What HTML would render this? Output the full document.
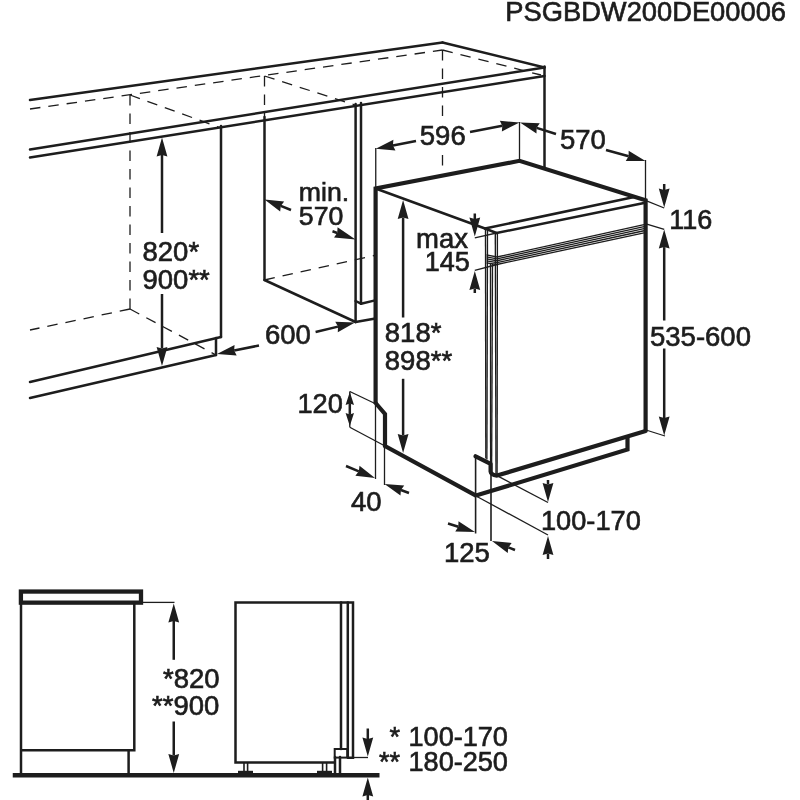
<!DOCTYPE html>
<html><head><meta charset="utf-8"><title>PSGBDW200DE00006</title>
<style>
html,body{margin:0;padding:0;background:#fff;}
body{width:800px;height:800px;overflow:hidden;}
svg{display:block;will-change:transform;filter:grayscale(1);}
svg text{font-family:"Liberation Sans",sans-serif;fill:#1d1d1b;stroke:#1d1d1b;stroke-width:0.65px;}
</style></head><body>
<svg width="800" height="800" viewBox="0 0 800 800">
<rect width="800" height="800" fill="#fff"/>
<text x="505.3" y="21" font-size="27.3" text-anchor="start">PSGBDW200DE00006</text>
<line x1="30" y1="100" x2="442.5" y2="42.5" stroke="#1d1d1b" stroke-width="2.5" stroke-linecap="round"/>
<line x1="442.5" y1="42.5" x2="544.5" y2="67.5" stroke="#1d1d1b" stroke-width="2.5" stroke-linecap="round"/>
<line x1="544.5" y1="66.5" x2="544.5" y2="167" stroke="#1d1d1b" stroke-width="2.5" stroke-linecap="round"/>
<line x1="30" y1="149.5" x2="544.5" y2="67.5" stroke="#1d1d1b" stroke-width="2.5" stroke-linecap="round"/>
<line x1="30" y1="157.5" x2="544.5" y2="76" stroke="#1d1d1b" stroke-width="2.5" stroke-linecap="round"/>
<line x1="30" y1="109" x2="442.5" y2="50" stroke="#1d1d1b" stroke-width="1.3" stroke-linecap="butt" stroke-dasharray="10.5 8"/>
<line x1="442.5" y1="50" x2="541" y2="75" stroke="#1d1d1b" stroke-width="1.3" stroke-linecap="butt" stroke-dasharray="10.5 8"/>
<line x1="442.5" y1="50" x2="442.5" y2="120" stroke="#1d1d1b" stroke-width="1.3" stroke-linecap="butt" stroke-dasharray="10.5 8"/>
<line x1="442.5" y1="155" x2="442.5" y2="170" stroke="#1d1d1b" stroke-width="1.3" stroke-linecap="butt" stroke-dasharray="10.5 8"/>
<line x1="130" y1="95" x2="130" y2="309" stroke="#1d1d1b" stroke-width="1.3" stroke-linecap="butt" stroke-dasharray="10.5 8"/>
<line x1="130" y1="95" x2="221" y2="128" stroke="#1d1d1b" stroke-width="1.3" stroke-linecap="butt" stroke-dasharray="10.5 8"/>
<line x1="130" y1="309" x2="30" y2="330" stroke="#1d1d1b" stroke-width="1.3" stroke-linecap="butt" stroke-dasharray="10.5 8"/>
<line x1="130" y1="309" x2="216" y2="355" stroke="#1d1d1b" stroke-width="1.3" stroke-linecap="butt" stroke-dasharray="10.5 8"/>
<line x1="221" y1="126" x2="221" y2="337" stroke="#1d1d1b" stroke-width="2.5" stroke-linecap="round"/>
<line x1="30" y1="382" x2="221" y2="337" stroke="#1d1d1b" stroke-width="2.5" stroke-linecap="round"/>
<line x1="30" y1="398" x2="216" y2="355" stroke="#1d1d1b" stroke-width="2.5" stroke-linecap="round"/>
<line x1="216" y1="338" x2="216" y2="355" stroke="#1d1d1b" stroke-width="2.5" stroke-linecap="round"/>
<line x1="264.5" y1="76" x2="264.5" y2="117" stroke="#1d1d1b" stroke-width="1.3" stroke-linecap="butt" stroke-dasharray="10.5 8"/>
<line x1="264.5" y1="76" x2="355" y2="105" stroke="#1d1d1b" stroke-width="1.3" stroke-linecap="butt" stroke-dasharray="10.5 8"/>
<line x1="264.5" y1="117" x2="264.5" y2="280" stroke="#1d1d1b" stroke-width="2.5" stroke-linecap="round"/>
<line x1="264.5" y1="280" x2="355.6" y2="322" stroke="#1d1d1b" stroke-width="2.5" stroke-linecap="round"/>
<line x1="264.5" y1="280" x2="374" y2="255.5" stroke="#1d1d1b" stroke-width="1.3" stroke-linecap="butt" stroke-dasharray="10.5 8"/>
<line x1="355.6" y1="104" x2="355.6" y2="322" stroke="#1d1d1b" stroke-width="2.5" stroke-linecap="round"/>
<line x1="361" y1="103" x2="361" y2="303.7" stroke="#1d1d1b" stroke-width="2.5" stroke-linecap="round"/>
<line x1="355.6" y1="301" x2="361" y2="303.7" stroke="#1d1d1b" stroke-width="2.5" stroke-linecap="round"/>
<line x1="361" y1="303.7" x2="374" y2="300.6" stroke="#1d1d1b" stroke-width="2.5" stroke-linecap="round"/>
<line x1="355.6" y1="322" x2="374" y2="318.7" stroke="#1d1d1b" stroke-width="2.5" stroke-linecap="round"/>
<polyline points="375.6,404 375.6,188.5 519.5,160.8 645.6,200.3 645.6,431" fill="none" stroke="#1d1d1b" stroke-width="4.2" stroke-linejoin="miter"/>
<line x1="375.6" y1="188.5" x2="485" y2="228.5" stroke="#1d1d1b" stroke-width="2.5" stroke-linecap="round"/>
<polyline points="375.6,403 385,414 385,446 476,495.6" fill="none" stroke="#1d1d1b" stroke-width="4.2" stroke-linejoin="miter"/>
<line x1="485" y1="228.5" x2="633" y2="197.3" stroke="#1d1d1b" stroke-width="2.5" stroke-linecap="round"/>
<line x1="496.5" y1="233" x2="644" y2="203" stroke="#1d1d1b" stroke-width="2.5" stroke-linecap="round"/>
<line x1="485" y1="228.5" x2="496.5" y2="233" stroke="#1d1d1b" stroke-width="2.5" stroke-linecap="round"/>
<line x1="485.5" y1="229" x2="485.8" y2="458.5" stroke="#1d1d1b" stroke-width="1.35" stroke-linecap="butt"/>
<line x1="487.5" y1="229.5" x2="486.9" y2="459.5" stroke="#1d1d1b" stroke-width="1.35" stroke-linecap="butt"/>
<line x1="495.3" y1="232.5" x2="496.0" y2="475" stroke="#1d1d1b" stroke-width="1.35" stroke-linecap="butt"/>
<line x1="497.4" y1="233.5" x2="497.1" y2="475" stroke="#1d1d1b" stroke-width="1.35" stroke-linecap="butt"/>
<line x1="490.5" y1="263" x2="490.6" y2="464" stroke="#1d1d1b" stroke-width="1.35" stroke-linecap="butt"/>
<line x1="492.5" y1="264" x2="491.6" y2="474" stroke="#1d1d1b" stroke-width="1.35" stroke-linecap="butt"/>
<line x1="497" y1="257.0" x2="644" y2="224.6" stroke="#1d1d1b" stroke-width="1.3" stroke-linecap="butt"/>
<line x1="486.5" y1="254.8" x2="497" y2="257.0" stroke="#1d1d1b" stroke-width="1.3" stroke-linecap="butt"/>
<line x1="497" y1="258.875" x2="644" y2="226.65" stroke="#1d1d1b" stroke-width="1.3" stroke-linecap="butt"/>
<line x1="486.5" y1="256.8" x2="497" y2="258.875" stroke="#1d1d1b" stroke-width="1.3" stroke-linecap="butt"/>
<line x1="497" y1="260.75" x2="644" y2="228.7" stroke="#1d1d1b" stroke-width="1.3" stroke-linecap="butt"/>
<line x1="486.5" y1="258.8" x2="497" y2="260.75" stroke="#1d1d1b" stroke-width="1.3" stroke-linecap="butt"/>
<line x1="497" y1="262.625" x2="644" y2="230.75" stroke="#1d1d1b" stroke-width="1.3" stroke-linecap="butt"/>
<line x1="486.5" y1="260.8" x2="497" y2="262.625" stroke="#1d1d1b" stroke-width="1.3" stroke-linecap="butt"/>
<line x1="497" y1="264.5" x2="644" y2="232.79999999999998" stroke="#1d1d1b" stroke-width="1.3" stroke-linecap="butt"/>
<line x1="486.5" y1="262.8" x2="497" y2="264.5" stroke="#1d1d1b" stroke-width="1.3" stroke-linecap="butt"/>
<path d="M475.6,456.3 L490.6,463.8 L490.6,471.5 Q491,475 497,475.6 L645.6,431" fill="none" stroke="#1d1d1b" stroke-width="4.2" stroke-linecap="round" stroke-linejoin="round"/>
<polyline points="476,495.6 627.5,449.4 627.5,436.5" fill="none" stroke="#1d1d1b" stroke-width="4.2" stroke-linejoin="miter"/>
<polygon points="162.00,137.50 167.40,156.50 162.00,155.00 156.60,156.50" fill="#1d1d1b"/>
<line x1="162" y1="233" x2="162.00" y2="155.00" stroke="#1d1d1b" stroke-width="2.5"/>
<polygon points="162.00,366.00 156.60,347.00 162.00,348.50 167.40,347.00" fill="#1d1d1b"/>
<line x1="162" y1="294" x2="162.00" y2="348.50" stroke="#1d1d1b" stroke-width="2.5"/>
<text x="142.5" y="261.25" font-size="27.5" text-anchor="start">820*</text>
<text x="142.5" y="288.5" font-size="27.5" text-anchor="start">900**</text>
<text x="298.8" y="201.2" font-size="26.7" text-anchor="start">min.</text>
<text x="298.8" y="224.7" font-size="26.7" text-anchor="start">570</text>
<polygon points="264.50,199.50 284.15,201.48 280.77,205.95 280.17,211.52" fill="#1d1d1b"/>
<line x1="291" y1="210" x2="280.77" y2="205.95" stroke="#1d1d1b" stroke-width="2.5"/>
<polygon points="355.60,239.40 334.00,237.55 337.20,232.95 337.57,227.36" fill="#1d1d1b"/>
<line x1="332.5" y1="231.3" x2="337.20" y2="232.95" stroke="#1d1d1b" stroke-width="2.5"/>
<text x="265" y="344" font-size="27.5" text-anchor="start">600</text>
<polygon points="217.00,354.00 234.55,344.94 234.15,350.53 236.69,355.52" fill="#1d1d1b"/>
<line x1="259" y1="345.5" x2="234.15" y2="350.53" stroke="#1d1d1b" stroke-width="2.5"/>
<polygon points="355.00,322.50 337.80,332.20 337.99,326.60 335.26,321.70" fill="#1d1d1b"/>
<line x1="315.6" y1="332" x2="337.99" y2="326.60" stroke="#1d1d1b" stroke-width="2.5"/>
<text x="419.8" y="144.5" font-size="27.5" text-anchor="start">596</text>
<polygon points="375.75,148.75 393.39,139.86 392.93,145.44 395.43,150.46" fill="#1d1d1b"/>
<line x1="416" y1="141" x2="392.93" y2="145.44" stroke="#1d1d1b" stroke-width="2.5"/>
<polygon points="519.50,122.50 501.86,131.38 502.31,125.80 499.82,120.78" fill="#1d1d1b"/>
<line x1="470" y1="132" x2="502.31" y2="125.80" stroke="#1d1d1b" stroke-width="2.5"/>
<line x1="375.75" y1="148" x2="375.75" y2="188" stroke="#1d1d1b" stroke-width="1.3" stroke-linecap="butt"/>
<line x1="519.5" y1="122" x2="519.5" y2="161" stroke="#1d1d1b" stroke-width="1.3" stroke-linecap="butt"/>
<text x="560" y="148.6" font-size="27.5" text-anchor="start">570</text>
<polygon points="520.00,122.50 539.74,123.14 536.67,127.83 536.46,133.43" fill="#1d1d1b"/>
<line x1="556" y1="134" x2="536.67" y2="127.83" stroke="#1d1d1b" stroke-width="2.5"/>
<polygon points="645.50,161.00 625.75,161.10 628.64,156.31 628.65,150.70" fill="#1d1d1b"/>
<line x1="606" y1="150" x2="628.64" y2="156.31" stroke="#1d1d1b" stroke-width="2.5"/>
<line x1="645.5" y1="160" x2="645.5" y2="199" stroke="#1d1d1b" stroke-width="1.3" stroke-linecap="butt"/>
<text x="669.3" y="229.4" font-size="27" text-anchor="start">116</text>
<polygon points="664.20,207.50 658.80,188.50 664.20,190.00 669.60,188.50" fill="#1d1d1b"/>
<line x1="664.2" y1="184" x2="664.20" y2="190.00" stroke="#1d1d1b" stroke-width="2.5"/>
<line x1="646" y1="200.6" x2="664.2" y2="208" stroke="#1d1d1b" stroke-width="1.3" stroke-linecap="butt"/>
<line x1="646" y1="223.8" x2="664.2" y2="229.4" stroke="#1d1d1b" stroke-width="1.3" stroke-linecap="butt"/>
<text x="650" y="345.6" font-size="27.5" text-anchor="start">535-600</text>
<polygon points="664.20,229.60 669.60,248.60 664.20,247.10 658.80,248.60" fill="#1d1d1b"/>
<line x1="664.2" y1="320.5" x2="664.20" y2="247.10" stroke="#1d1d1b" stroke-width="2.5"/>
<polygon points="664.20,435.50 658.80,416.50 664.20,418.00 669.60,416.50" fill="#1d1d1b"/>
<line x1="664.2" y1="348.5" x2="664.20" y2="418.00" stroke="#1d1d1b" stroke-width="2.5"/>
<line x1="646" y1="430" x2="665" y2="436" stroke="#1d1d1b" stroke-width="1.3" stroke-linecap="butt"/>
<text x="468" y="248" font-size="27.5" text-anchor="end">max</text>
<text x="469.7" y="271" font-size="27" text-anchor="end">145</text>
<polygon points="474.80,236.50 469.40,217.50 474.80,219.00 480.20,217.50" fill="#1d1d1b"/>
<line x1="474.8" y1="213.5" x2="474.80" y2="219.00" stroke="#1d1d1b" stroke-width="2.5"/>
<polygon points="474.80,271.00 480.20,290.00 474.80,288.50 469.40,290.00" fill="#1d1d1b"/>
<line x1="474.8" y1="293" x2="474.80" y2="288.50" stroke="#1d1d1b" stroke-width="2.5"/>
<line x1="474.8" y1="237.8" x2="496.5" y2="233" stroke="#1d1d1b" stroke-width="1.3" stroke-linecap="butt"/>
<line x1="474.8" y1="270.3" x2="497" y2="264.5" stroke="#1d1d1b" stroke-width="1.3" stroke-linecap="butt"/>
<text x="384.8" y="342" font-size="27.5" text-anchor="start">818*</text>
<text x="384.8" y="369.6" font-size="27.5" text-anchor="start">898**</text>
<polygon points="403.10,200.00 408.50,219.00 403.10,217.50 397.70,219.00" fill="#1d1d1b"/>
<line x1="403.1" y1="317.5" x2="403.10" y2="217.50" stroke="#1d1d1b" stroke-width="2.5"/>
<polygon points="403.10,453.00 397.70,434.00 403.10,435.50 408.50,434.00" fill="#1d1d1b"/>
<line x1="403.1" y1="378.8" x2="403.10" y2="435.50" stroke="#1d1d1b" stroke-width="2.5"/>
<text x="297.5" y="413" font-size="27.2" text-anchor="start">120</text>
<line x1="375" y1="403.5" x2="349.8" y2="391.5" stroke="#1d1d1b" stroke-width="1.3" stroke-linecap="butt"/>
<line x1="349.8" y1="391.5" x2="349.8" y2="427.3" stroke="#1d1d1b" stroke-width="1.3" stroke-linecap="butt"/>
<line x1="349.8" y1="427.3" x2="385" y2="446" stroke="#1d1d1b" stroke-width="1.3" stroke-linecap="butt"/>
<polygon points="349.80,392.00 354.00,405.00 349.80,403.50 345.60,405.00" fill="#1d1d1b"/>
<line x1="349.8" y1="409" x2="349.80" y2="403.50" stroke="#1d1d1b" stroke-width="2.5"/>
<polygon points="349.80,426.00 345.60,413.00 349.80,414.50 354.00,413.00" fill="#1d1d1b"/>
<line x1="349.8" y1="409" x2="349.80" y2="414.50" stroke="#1d1d1b" stroke-width="2.5"/>
<text x="351" y="510.5" font-size="27.5" text-anchor="start">40</text>
<line x1="375.5" y1="404" x2="375.5" y2="479" stroke="#1d1d1b" stroke-width="1.3" stroke-linecap="butt"/>
<line x1="384.5" y1="446" x2="384.5" y2="485" stroke="#1d1d1b" stroke-width="1.3" stroke-linecap="butt"/>
<polygon points="375.00,478.00 355.38,475.73 358.83,471.31 359.51,465.75" fill="#1d1d1b"/>
<line x1="346" y1="466" x2="358.83" y2="471.31" stroke="#1d1d1b" stroke-width="2.5"/>
<polygon points="384.50,484.00 404.20,485.48 400.93,490.03 400.47,495.62" fill="#1d1d1b"/>
<line x1="409" y1="493" x2="400.93" y2="490.03" stroke="#1d1d1b" stroke-width="2.5"/>
<text x="444" y="561.5" font-size="27.5" text-anchor="start">125</text>
<line x1="475.6" y1="456" x2="475.6" y2="533.5" stroke="#1d1d1b" stroke-width="1.6" stroke-linecap="butt"/>
<line x1="491" y1="473" x2="491" y2="541" stroke="#1d1d1b" stroke-width="1.6" stroke-linecap="butt"/>
<polygon points="475.00,532.00 455.26,531.45 458.31,526.74 458.50,521.14" fill="#1d1d1b"/>
<line x1="448" y1="523.5" x2="458.31" y2="526.74" stroke="#1d1d1b" stroke-width="2.5"/>
<polygon points="492.00,541.00 511.66,542.89 508.30,547.38 507.73,552.95" fill="#1d1d1b"/>
<line x1="515" y1="550" x2="508.30" y2="547.38" stroke="#1d1d1b" stroke-width="2.5"/>
<text x="541" y="529.7" font-size="27.2" text-anchor="start">100-170</text>
<line x1="497" y1="475.6" x2="548" y2="502.5" stroke="#1d1d1b" stroke-width="1.3" stroke-linecap="butt"/>
<line x1="476" y1="496" x2="548" y2="535" stroke="#1d1d1b" stroke-width="1.3" stroke-linecap="butt"/>
<polygon points="548.00,502.00 542.60,483.00 548.00,484.50 553.40,483.00" fill="#1d1d1b"/>
<line x1="548" y1="480" x2="548.00" y2="484.50" stroke="#1d1d1b" stroke-width="2.5"/>
<polygon points="548.00,536.00 553.40,555.00 548.00,553.50 542.60,555.00" fill="#1d1d1b"/>
<line x1="548" y1="559" x2="548.00" y2="553.50" stroke="#1d1d1b" stroke-width="2.5"/>
<rect x="20.9" y="591.55" width="120.1" height="11.1" fill="none" stroke="#1d1d1b" stroke-width="4.3"/>
<polyline points="21,603 21,773" fill="none" stroke="#1d1d1b" stroke-width="2.5" stroke-linejoin="miter"/>
<polyline points="134.3,603 134.3,750.3 21,750.3" fill="none" stroke="#1d1d1b" stroke-width="2.5" stroke-linejoin="miter"/>
<line x1="128.6" y1="750.3" x2="128.6" y2="773" stroke="#1d1d1b" stroke-width="2.5" stroke-linecap="round"/>
<line x1="12.75" y1="775.2" x2="379.5" y2="775.2" stroke="#1d1d1b" stroke-width="4.6" stroke-linecap="butt"/>
<line x1="143" y1="602.4" x2="174.5" y2="602.4" stroke="#1d1d1b" stroke-width="1.3" stroke-linecap="butt"/>
<polygon points="173.75,603.50 179.15,622.50 173.75,621.00 168.35,622.50" fill="#1d1d1b"/>
<line x1="173.75" y1="659.8" x2="173.75" y2="621.00" stroke="#1d1d1b" stroke-width="2.5"/>
<polygon points="173.75,773.00 168.35,754.00 173.75,755.50 179.15,754.00" fill="#1d1d1b"/>
<line x1="173.75" y1="721.5" x2="173.75" y2="755.50" stroke="#1d1d1b" stroke-width="2.5"/>
<text x="163" y="687.5" font-size="27.5" text-anchor="start">*820</text>
<text x="152" y="714.75" font-size="27.5" text-anchor="start">**900</text>
<polyline points="334.5,762.5 235.5,762.5 235.5,602.5 353,602.5 353,757.8 347.8,757.8" fill="none" stroke="#1d1d1b" stroke-width="2.5" stroke-linejoin="miter"/>
<line x1="341" y1="602.5" x2="341" y2="749" stroke="#1d1d1b" stroke-width="2.5" stroke-linecap="round"/>
<line x1="347.8" y1="602.5" x2="347.8" y2="757.8" stroke="#1d1d1b" stroke-width="2.5" stroke-linecap="round"/>
<rect x="334.7" y="749" width="12.6" height="8.6" fill="none" stroke="#1d1d1b" stroke-width="2"/>
<line x1="335" y1="757" x2="335" y2="773" stroke="#1d1d1b" stroke-width="2.5" stroke-linecap="round"/>
<line x1="340" y1="757" x2="340" y2="773" stroke="#1d1d1b" stroke-width="2.5" stroke-linecap="round"/>
<line x1="244" y1="762.5" x2="244" y2="771.5" stroke="#1d1d1b" stroke-width="1.6" stroke-linecap="butt"/>
<line x1="247.6" y1="762.5" x2="247.6" y2="771.5" stroke="#1d1d1b" stroke-width="1.6" stroke-linecap="butt"/>
<line x1="322.6" y1="762.5" x2="322.6" y2="771.5" stroke="#1d1d1b" stroke-width="1.6" stroke-linecap="butt"/>
<line x1="326.6" y1="762.5" x2="326.6" y2="771.5" stroke="#1d1d1b" stroke-width="1.6" stroke-linecap="butt"/>
<line x1="238" y1="772" x2="253" y2="772" stroke="#1d1d1b" stroke-width="2.4" stroke-linecap="butt"/>
<line x1="317" y1="772" x2="332" y2="772" stroke="#1d1d1b" stroke-width="2.4" stroke-linecap="butt"/>
<line x1="353" y1="757.5" x2="368" y2="757.5" stroke="#1d1d1b" stroke-width="1.3" stroke-linecap="butt"/>
<polygon points="367.80,756.50 362.40,737.50 367.80,739.00 373.20,737.50" fill="#1d1d1b"/>
<line x1="367.8" y1="728.5" x2="367.80" y2="739.00" stroke="#1d1d1b" stroke-width="2.5"/>
<polygon points="367.80,777.50 373.20,796.50 367.80,795.00 362.40,796.50" fill="#1d1d1b"/>
<line x1="367.8" y1="800" x2="367.80" y2="795.00" stroke="#1d1d1b" stroke-width="2.5"/>
<text x="389.5" y="746" font-size="27.1" text-anchor="start">*</text>
<text x="408.5" y="746" font-size="27.1" text-anchor="start">100-170</text>
<text x="379" y="771" font-size="27.1" text-anchor="start">**</text>
<text x="408.5" y="771" font-size="27.1" text-anchor="start">180-250</text>
</svg>
</body></html>
